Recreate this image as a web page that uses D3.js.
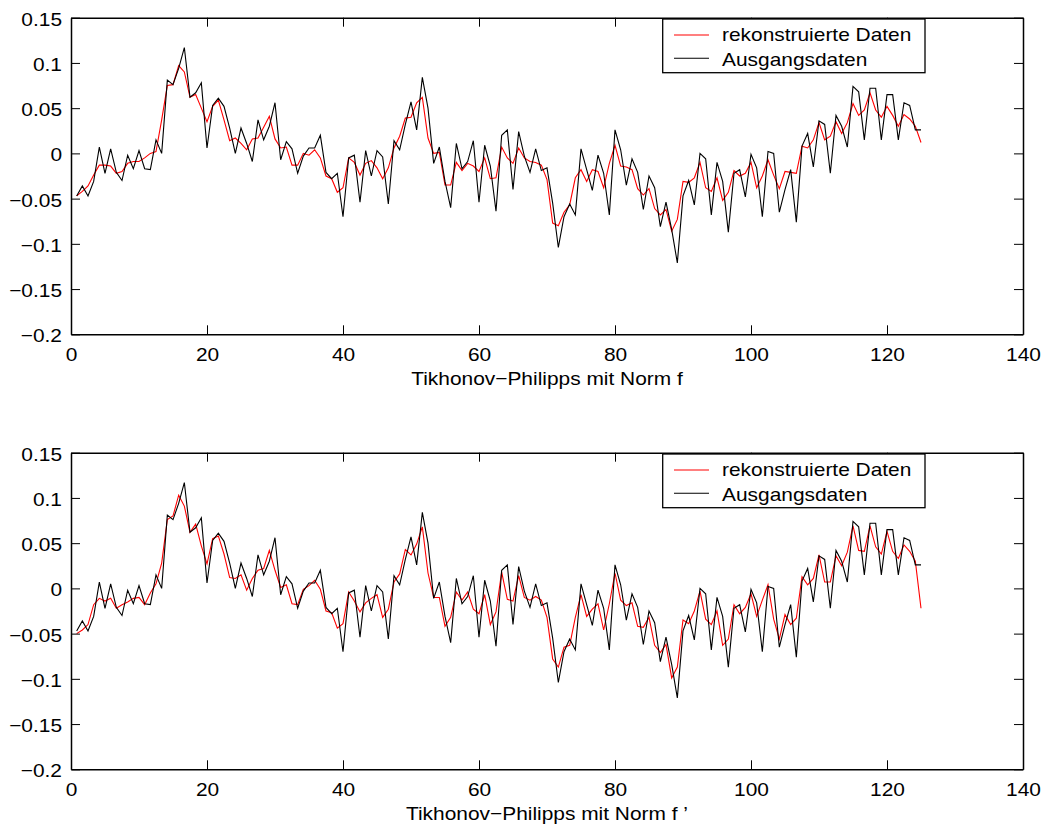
<!DOCTYPE html>
<html>
<head>
<meta charset="utf-8">
<script src="https://cdn.jsdelivr.net/npm/d3@7"></script>
<style>
    body { margin: 0; background: #fff; }
    svg { display: block; font-family: "Liberation Sans", Arial, Helvetica, sans-serif; }
</style>
</head>
<body>
<div id="chart"></div>
<script>

// sample grid: 150 samples on (0, 125]
const xStep = 125 / 150;

// Ausgangsdaten (same in both panels)
const ausgangsdaten = [
    -0.047, -0.036, -0.047, -0.031, 0.007, -0.022, 0.005, -0.021, -0.030, -0.002,
    -0.017, 0.003, -0.017, -0.018, 0.015, 0.000, 0.081, 0.076, 0.094, 0.117,
    0.062, 0.067, 0.078, 0.006, 0.053, 0.061, 0.052, 0.028, 0.000, 0.028,
    0.011, -0.009, 0.037, 0.015, 0.030, 0.056, -0.007, 0.013, 0.005, -0.022,
    -0.003, 0.006, 0.006, 0.020, -0.021, -0.028, -0.022, -0.070, -0.005, -0.002,
    -0.054, 0.003, -0.025, 0.003, -0.004, -0.056, 0.014, 0.004, 0.032, 0.057,
    0.026, 0.084, 0.050, -0.011, 0.007, -0.031, -0.060, 0.011, -0.017, -0.009,
    0.014, -0.054, 0.009, -0.014, -0.064, 0.020, 0.026, -0.040, 0.024, -0.003,
    -0.021, 0.005, -0.019, -0.016, -0.055, -0.104, -0.070, -0.056, -0.068, 0.005,
    -0.018, -0.041, -0.002, -0.022, -0.068, 0.026, 0.004, -0.035, -0.006, -0.021,
    -0.062, -0.025, -0.038, -0.081, -0.054, -0.084, -0.121, -0.047, -0.030, -0.057,
    0.000, -0.006, -0.068, -0.010, -0.031, -0.087, -0.022, -0.018, -0.048, -0.001,
    -0.016, -0.070, 0.002, 0.000, -0.065, -0.040, -0.018, -0.076, 0.008, 0.022,
    -0.015, 0.036, 0.032, -0.022, 0.042, 0.030, 0.007, 0.074, 0.068, 0.015,
    0.072, 0.072, 0.015, 0.065, 0.065, 0.015, 0.056, 0.053, 0.026, 0.026
];

// rekonstruierte Daten, Norm f
const rekonstruiertF = [
    -0.047, -0.042, -0.036, -0.024, -0.013, -0.013, -0.014, -0.022, -0.020, -0.011,
    -0.009, -0.009, -0.005, 0.000, 0.002, 0.037, 0.075, 0.076, 0.097, 0.090,
    0.062, 0.065, 0.050, 0.035, 0.052, 0.059, 0.037, 0.014, 0.017, 0.011,
    0.004, 0.016, 0.017, 0.029, 0.041, 0.016, 0.006, 0.007, -0.013, -0.013,
    0.000, -0.002, 0.004, -0.005, -0.025, -0.028, -0.043, -0.038, -0.005, -0.010,
    -0.024, -0.011, -0.008, -0.016, -0.028, -0.016, 0.006, 0.019, 0.039, 0.040,
    0.056, 0.062, 0.017, 0.000, 0.001, -0.035, -0.035, -0.010, -0.019, -0.011,
    -0.014, -0.020, -0.005, -0.028, -0.027, 0.007, -0.005, -0.011, 0.006, -0.005,
    -0.009, -0.010, -0.013, -0.029, -0.077, -0.080, -0.065, -0.057, -0.027, -0.018,
    -0.031, -0.018, -0.020, -0.038, -0.011, 0.009, -0.014, -0.015, -0.018, -0.039,
    -0.046, -0.039, -0.061, -0.068, -0.062, -0.086, -0.073, -0.031, -0.032, -0.027,
    -0.010, -0.038, -0.042, -0.027, -0.052, -0.043, -0.019, -0.025, -0.022, -0.010,
    -0.038, -0.025, -0.007, -0.024, -0.039, -0.020, -0.021, -0.022, 0.008, 0.006,
    0.015, 0.034, 0.015, 0.019, 0.035, 0.022, 0.034, 0.055, 0.042, 0.048,
    0.067, 0.048, 0.040, 0.052, 0.042, 0.030, 0.043, 0.038, 0.030, 0.012
];

// rekonstruierte Daten, Norm f'
const rekonstruiertFStrich = [
    -0.050, -0.046, -0.040, -0.018, -0.011, -0.014, -0.011, -0.022, -0.018, -0.015,
    -0.011, -0.010, -0.018, -0.005, 0.005, 0.028, 0.076, 0.080, 0.103, 0.091,
    0.062, 0.071, 0.047, 0.027, 0.055, 0.058, 0.038, 0.012, 0.011, 0.015,
    -0.002, 0.011, 0.020, 0.022, 0.042, 0.020, 0.001, 0.004, -0.017, -0.018,
    -0.001, 0.003, 0.009, -0.001, -0.025, -0.027, -0.044, -0.039, -0.004, -0.014,
    -0.026, -0.016, -0.011, -0.007, -0.032, -0.023, 0.007, 0.016, 0.043, 0.037,
    0.049, 0.068, 0.017, -0.010, -0.010, -0.042, -0.032, -0.004, -0.013, -0.004,
    -0.023, -0.028, -0.007, -0.040, -0.026, 0.018, -0.012, -0.014, 0.014, -0.010,
    -0.013, -0.009, -0.013, -0.032, -0.078, -0.087, -0.065, -0.063, -0.032, -0.007,
    -0.031, -0.023, -0.017, -0.046, -0.017, 0.017, -0.013, -0.019, -0.016, -0.042,
    -0.043, -0.032, -0.063, -0.071, -0.062, -0.099, -0.087, -0.035, -0.039, -0.025,
    -0.003, -0.034, -0.040, -0.025, -0.063, -0.056, -0.018, -0.028, -0.021, -0.006,
    -0.031, -0.013, 0.004, -0.034, -0.056, -0.029, -0.040, -0.033, 0.013, 0.004,
    0.011, 0.037, 0.007, 0.007, 0.036, 0.025, 0.040, 0.069, 0.042, 0.041,
    0.069, 0.046, 0.038, 0.063, 0.041, 0.033, 0.048, 0.041, 0.030, -0.022
];

const xTicks = [0, 20, 40, 60, 80, 100, 120, 140];
const yTicks = [0.15, 0.1, 0.05, 0, -0.05, -0.1, -0.15, -0.2];
const yTickLabels = ["0.15", "0.1", "0.05", "0", "\u22120.05", "\u22120.1", "\u22120.15", "\u22120.2"];
const legendLabels = ["rekonstruierte Daten", "Ausgangsdaten"];
const xLabels = ["Tikhonov\u2212Philipps mit Norm f", "Tikhonov\u2212Philipps mit Norm f \u2019"];

const outerWidth = 1045;
const outerHeight = 827;
const left = 71;
const innerWidth = 952;
const innerHeight = 316.6;
const panelTops = [17.7, 452.7];
const stretch = 1.1;   // the original figure text is a bit wider than the font

const svg = d3.select("#chart")
    .append("svg")
    .attr("width", outerWidth)
    .attr("height", outerHeight)
    .style("font-size", "19px");

svg.append("rect")
    .attr("width", outerWidth)
    .attr("height", outerHeight)
    .attr("fill", "#fff");

const xScale = d3.scaleLinear()
    .domain([0, 140])
    .range([0, innerWidth]);

const yScale = d3.scaleLinear()
    .domain([-0.2, 0.15])
    .range([innerHeight, 0]);

const line = d3.line()
    .x(function (d, i) { return xScale((i + 1) * xStep); })
    .y(function (d) { return yScale(d); });

drawPanel(panelTops[0], rekonstruiertF, xLabels[0]);
drawPanel(panelTops[1], rekonstruiertFStrich, xLabels[1]);

// widen all texts a little, keeping their anchor
svg.selectAll("text").each(function () {
    const w = this.getComputedTextLength();
    if (w > 0) {
        d3.select(this)
            .attr("textLength", w * stretch)
            .attr("lengthAdjust", "spacingAndGlyphs");
    }
});


function drawPanel(top, recon, label) {

    const g = svg.append("g")
        .attr("transform", "translate(" + left + "," + top + ")");

    /* data lines */
    g.append("path")
        .attr("d", line(recon))
        .attr("fill", "none")
        .attr("stroke", "#ff0000")
        .attr("stroke-width", 1.1);

    g.append("path")
        .attr("d", line(ausgangsdaten))
        .attr("fill", "none")
        .attr("stroke", "#000")
        .attr("stroke-width", 1.1);

    /* axes, ticks inside like the box of the original */
    const bottomAxis = g.append("g")
        .attr("transform", "translate(0," + innerHeight + ")")
        .call(d3.axisBottom(xScale)
            .tickValues(xTicks)
            .tickSizeInner(-9)
            .tickSizeOuter(0));

    bottomAxis.selectAll("text")
        .attr("y", 26.5)
        .attr("dy", 0);

    const leftAxis = g.append("g")
        .call(d3.axisLeft(yScale)
            .tickValues(yTicks)
            .tickFormat(function (d, i) { return yTickLabels[i]; })
            .tickSizeInner(-9)
            .tickSizeOuter(0));

    leftAxis.selectAll("text")
        .attr("x", -9)
        .attr("y", 7.5)
        .attr("dy", 0);

    const topAxis = g.append("g")
        .call(d3.axisTop(xScale)
            .tickValues(xTicks)
            .tickFormat("")
            .tickSizeInner(-9)
            .tickSizeOuter(0));

    const rightAxis = g.append("g")
        .attr("transform", "translate(" + innerWidth + ",0)")
        .call(d3.axisRight(yScale)
            .tickValues(yTicks)
            .tickFormat("")
            .tickSizeInner(-9)
            .tickSizeOuter(0));

    [bottomAxis, leftAxis, topAxis, rightAxis].forEach(function (a) {
        a.attr("font-size", null).attr("font-family", null);
        a.selectAll("text").attr("fill", "#000");
        a.selectAll("line").attr("stroke", "#000");
        a.select(".domain").attr("stroke", "#000").attr("stroke-width", 1.5);
    });

    /* x label */
    g.append("text")
        .attr("x", innerWidth / 2)
        .attr("y", 367)
        .attr("text-anchor", "middle")
        .text(label);

    /* legend */
    const legend = g.append("g")
        .attr("transform", "translate(591.7,1.3)");

    legend.append("rect")
        .attr("width", 262.3)
        .attr("height", 53.7)
        .attr("fill", "#fff")
        .attr("stroke", "#000")
        .attr("stroke-width", 1.3);

    const colors = ["#ff0000", "#000"];
    legendLabels.forEach(function (t, i) {
        legend.append("line")
            .attr("x1", 11.3)
            .attr("x2", 46.3)
            .attr("y1", 16 + i * 23.3)
            .attr("y2", 16 + i * 23.3)
            .attr("stroke", colors[i])
            .attr("stroke-width", 1.1);

        legend.append("text")
            .attr("x", 59.3)
            .attr("y", 22 + i * 24.5)
            .text(t);
    });
}

</script>
</body>
</html>
